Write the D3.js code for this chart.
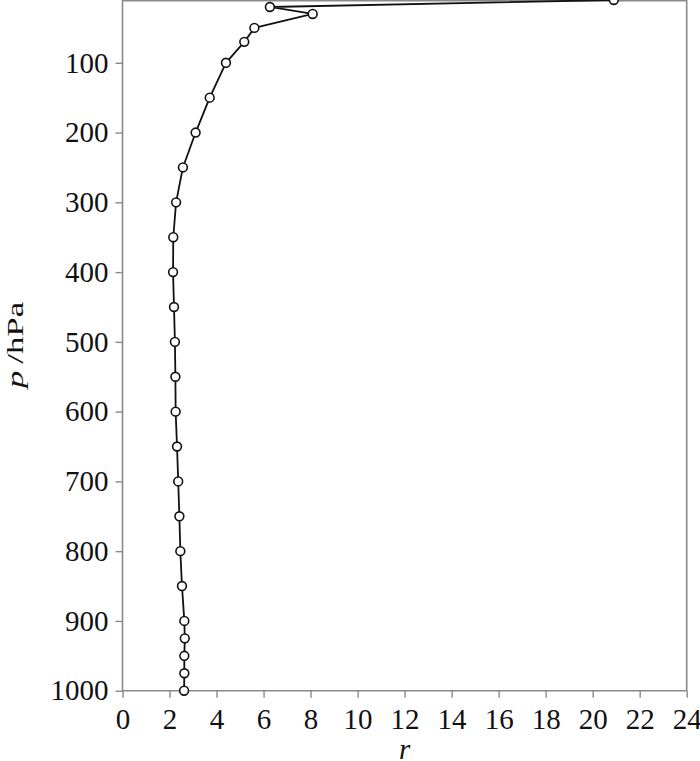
<!DOCTYPE html>
<html>
<head>
<meta charset="utf-8">
<script src="https://cdn.jsdelivr.net/npm/d3@7"></script>
<style>
  html, body { margin: 0; padding: 0; background: #fff; }
  svg { display: block; }
  text { font-family: "Liberation Serif", "Times New Roman", serif; fill: #111; }
</style>
</head>
<body>
<svg id="chart" width="700" height="761"></svg>
<script>
// Data
const pressure = [10, 20, 30, 50, 70, 100, 150, 200, 250, 300, 350, 400, 450, 500,
                  550, 600, 650, 700, 750, 800, 850, 900, 925, 950, 975, 1000];
const rValues  = [20.9, 6.27, 8.09, 5.61, 5.18, 4.40, 3.71, 3.11, 2.57, 2.28, 2.16, 2.15, 2.19, 2.23,
                  2.25, 2.26, 2.32, 2.37, 2.42, 2.46, 2.53, 2.63, 2.65, 2.63, 2.63, 2.62];
const xTicks = [0, 2, 4, 6, 8, 10, 12, 14, 16, 18, 20, 22, 24];
const yTicks = [100, 200, 300, 400, 500, 600, 700, 800, 900, 1000];
const xDomain = [0, 24];
const yDomain = [10, 1000];

(function () {
const svg = d3.select("#chart");
const mLeft = 122.5, mRight = 686.7, mTop = 0, mBottom = 690.7;

const x = d3.scaleLinear().domain(xDomain).range([mLeft, mRight]);
const y = d3.scaleLinear().domain(yDomain).range([mTop, mBottom]);

const axisColor = "#8a8a8a";

// frame (top and right)
svg.append("path")
  .attr("d", `M${mLeft},${mTop + 0.8}H${mRight}V${mBottom}`)
  .attr("fill", "none").attr("stroke", axisColor).attr("stroke-width", 1.6);

// x axis
const gx = svg.append("g").attr("transform", `translate(0,${mBottom})`)
  .call(d3.axisBottom(x).tickValues(xTicks).tickFormat(d3.format("d"))
        .tickSize(7).tickPadding(10).tickSizeOuter(0));
// y axis
const gy = svg.append("g").attr("transform", `translate(${mLeft},0)`)
  .call(d3.axisLeft(y).tickValues(yTicks).tickFormat(d3.format("d"))
        .tickSize(7).tickPadding(7).tickSizeOuter(0));

[gx, gy].forEach(g => {
  g.select(".domain").attr("stroke", axisColor).attr("stroke-width", 1.6);
  g.selectAll(".tick line").attr("stroke", axisColor).attr("stroke-width", 1.4);
  g.selectAll(".tick text")
    .attr("font-family", "Liberation Serif, serif")
    .attr("font-size", 29).attr("fill", "#111");
});
gx.select(".domain").attr("d", `M${mLeft},0H${mRight}`);
gy.select(".domain").attr("d", `M0,${mTop}V${mBottom}`);
gx.selectAll(".tick text").attr("dy", "0.72em");

// line
const line = d3.line().x((d, i) => x(rValues[i])).y(d => y(d));
svg.append("path")
  .datum(pressure)
  .attr("d", line)
  .attr("fill", "none").attr("stroke", "#111").attr("stroke-width", 1.8)
  .attr("stroke-linejoin", "round");

// markers
svg.append("g").selectAll("circle")
  .data(pressure)
  .join("circle")
  .attr("cx", (d, i) => x(rValues[i]))
  .attr("cy", d => y(d))
  .attr("r", 4.4)
  .attr("fill", "#fff").attr("stroke", "#111").attr("stroke-width", 1.6);

// axis titles
svg.append("text")
  .attr("x", (mLeft + mRight) / 2).attr("y", 759)
  .attr("text-anchor", "middle").attr("font-size", 29)
  .attr("font-style", "italic").text("r");

const yt = svg.append("text")
  .attr("transform", `translate(23,345) rotate(-90) scale(1.2,0.8)`)
  .attr("text-anchor", "middle").attr("font-size", 29);
yt.append("tspan").attr("font-style", "italic").text("p");
yt.append("tspan").text("\u2009/hPa");
})();
</script>
</body>
</html>
